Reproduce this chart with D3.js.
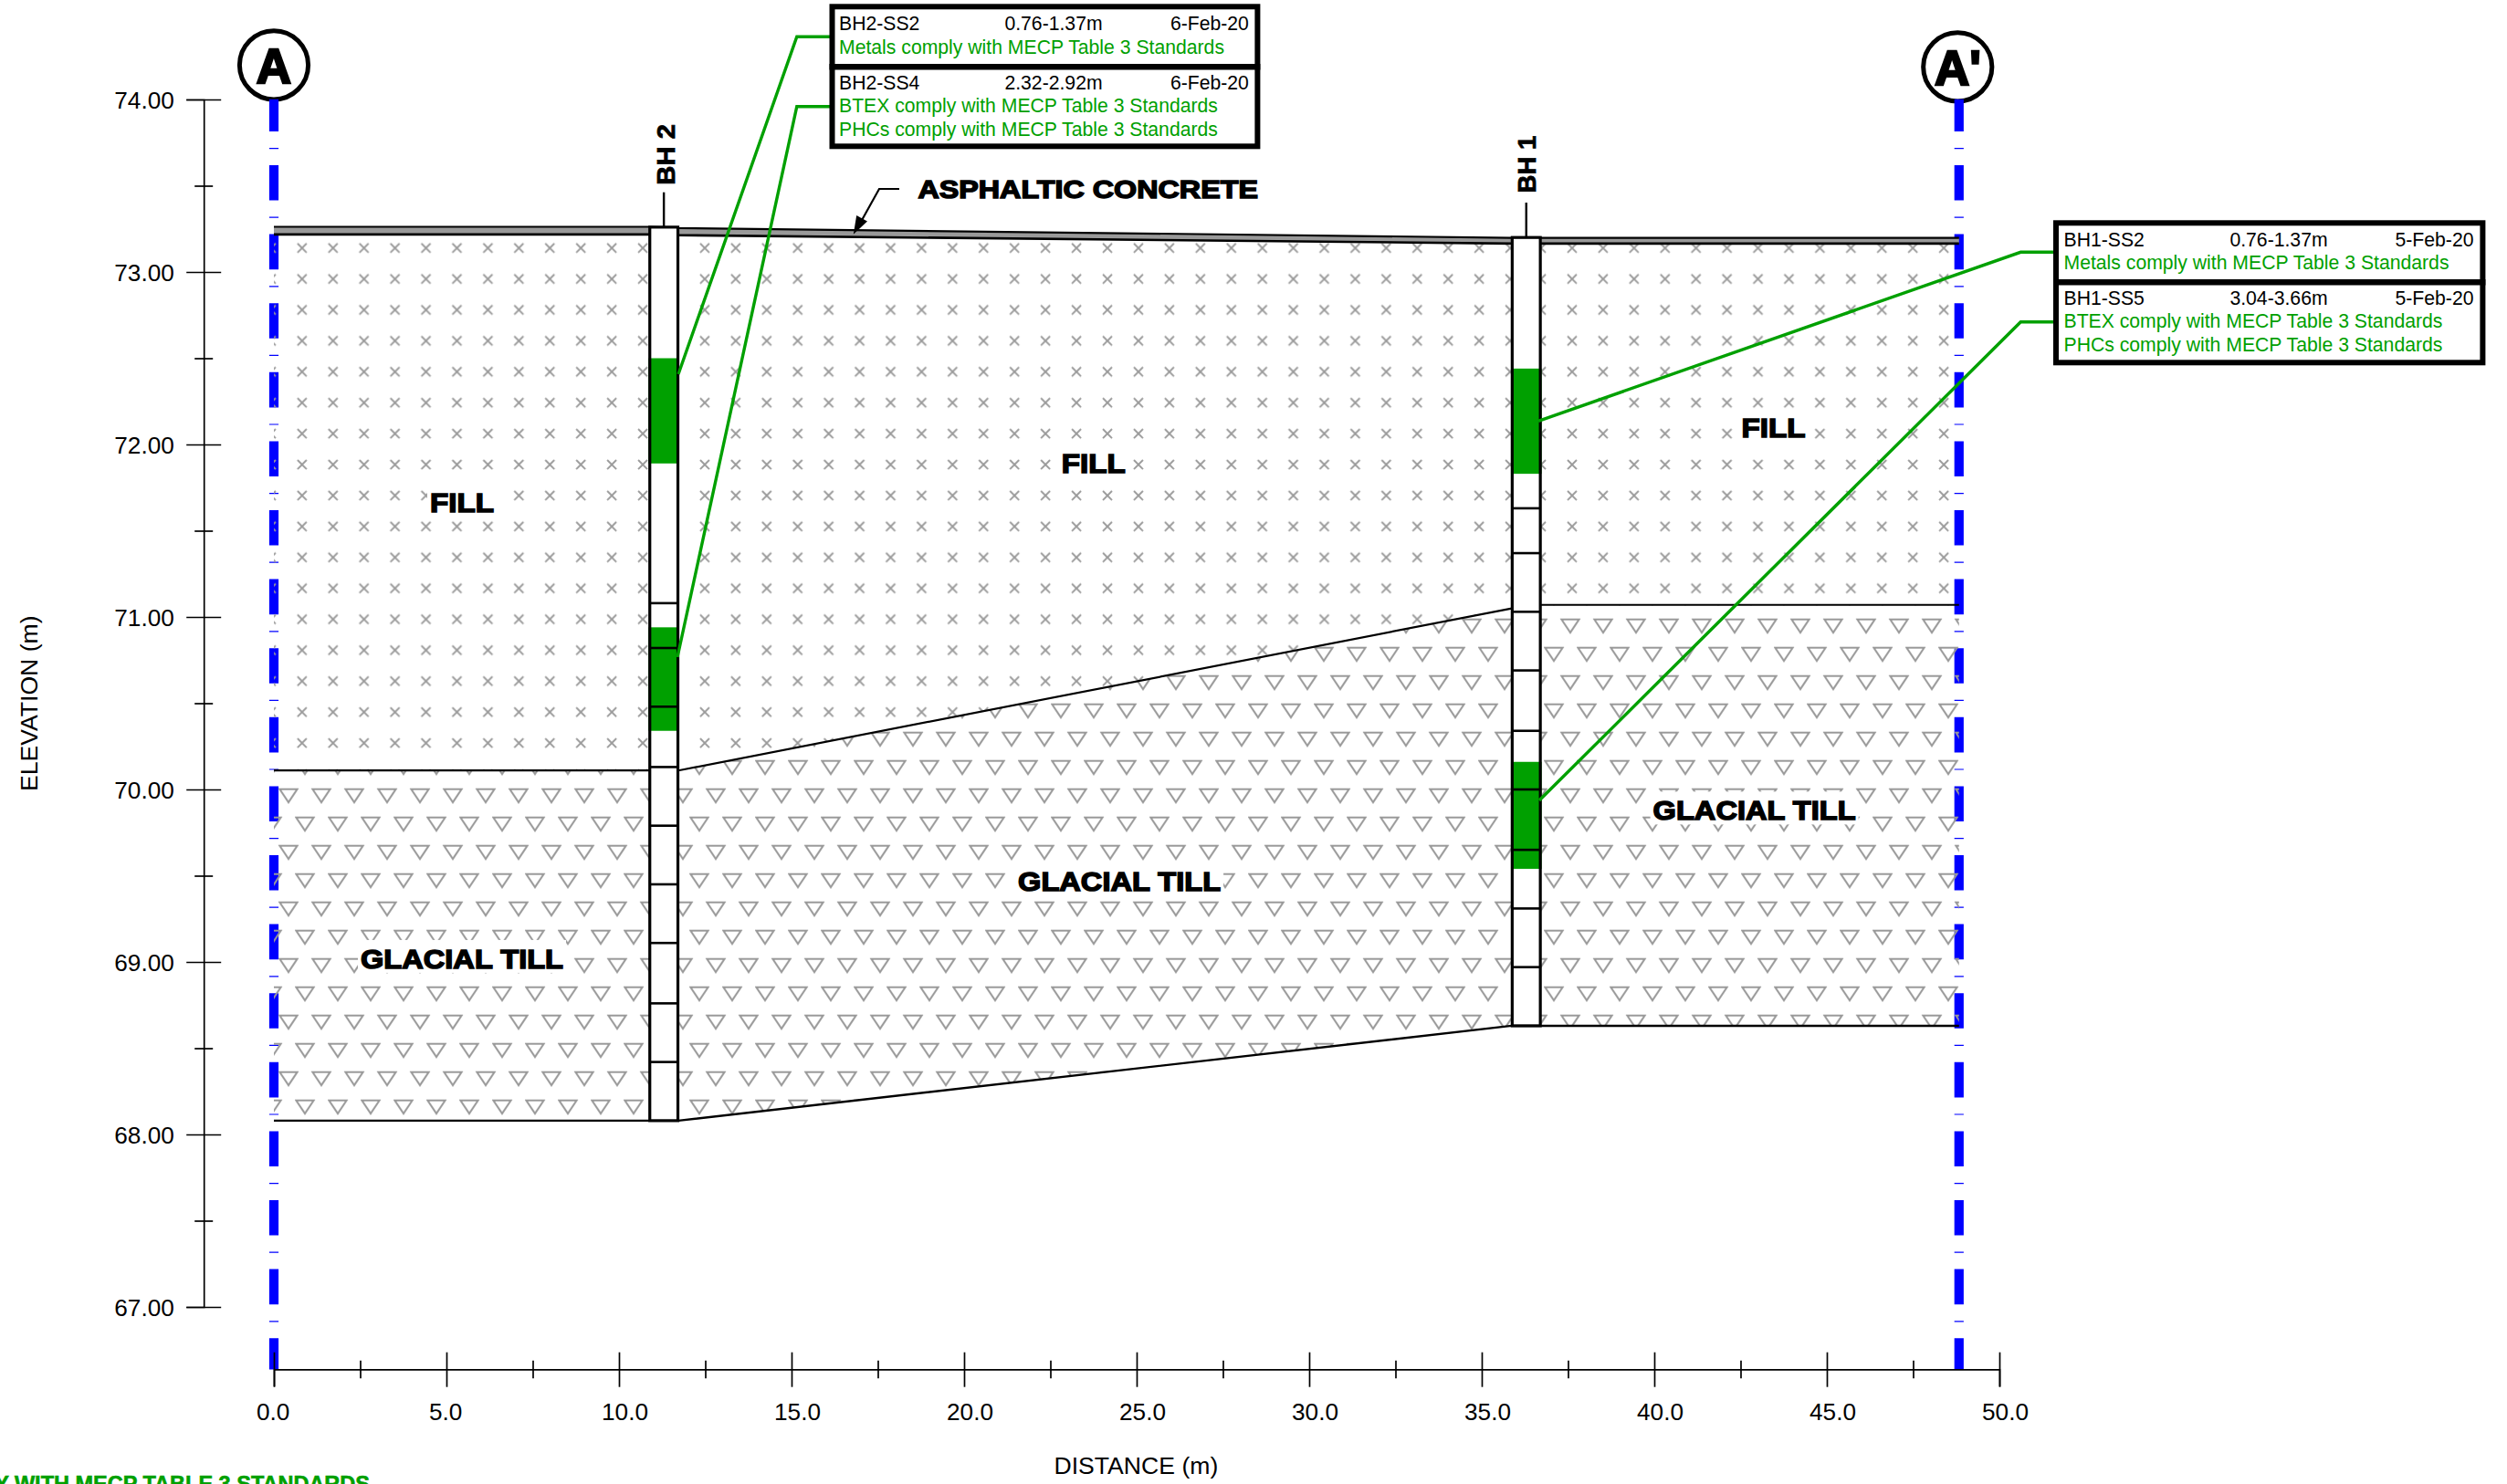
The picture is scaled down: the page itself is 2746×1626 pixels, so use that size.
<!DOCTYPE html>
<html><head><meta charset="utf-8">
<script src="https://cdn.jsdelivr.net/npm/d3@7"></script>
<style>
html,body{margin:0;padding:0;background:#fff;overflow:hidden}
text{font-family:"Liberation Sans",Arial,sans-serif}
</style></head><body><svg id="c" width="2746" height="1626" viewBox="0 0 2746 1626"></svg>
<script>
// ---- data ----
const yMajor=[67,68,69,70,71,72,73,74];
const yMinor=[67.5,68.5,69.5,70.5,71.5,72.5,73.5];
const xMajor=[0,5,10,15,20,25,30,35,40,45,50];
const xMinor=[2.5,7.5,12.5,17.5,22.5,27.5,32.5,37.5,42.5,47.5];
const sectionEnds=[0,48.83];
const layerDist=[0,10.87,11.72,35.87,36.72,48.83];
const asphaltTop=[73.262,73.262,73.255,73.198,73.198,73.198];
const asphaltBase=[73.218,73.218,73.213,73.165,73.165,73.165];
const fillBase=[70.11,70.11,70.11,71.05,71.07,71.07];
const tillBase=[68.08,68.08,68.08,68.63,68.63,68.63];
const bhNames=["BH 2","BH 1"];
const bhDist=[11.3,36.29];
const bhTop=[73.26,73.20];
const bhBottom=[68.08,68.63];
const bh2Ticks=[71.08,70.82,70.48,70.13,69.79,69.45,69.11,68.76,68.42];
const bh1Ticks=[71.63,71.37,71.03,70.69,70.34,70.00,69.65,69.31,68.97];
const bh2Samples=[[72.50,71.89],[70.94,70.34]];
const bh1Samples=[[72.44,71.83],[70.16,69.54]];
const soilLabels=["FILL","GLACIAL TILL","FILL","GLACIAL TILL","FILL","GLACIAL TILL"];
const soilLabelDist=[5.45,5.45,23.75,24.5,43.45,42.9];
const soilLabelElev=[71.665,69.02,71.895,69.47,72.10,69.88];
const boxTexts=[
 {id:"BH2-SS2",depth:"0.76-1.37m",date:"6-Feb-20",lines:["Metals comply with MECP Table 3 Standards"]},
 {id:"BH2-SS4",depth:"2.32-2.92m",date:"6-Feb-20",lines:["BTEX comply with MECP Table 3 Standards","PHCs comply with MECP Table 3 Standards"]},
 {id:"BH1-SS2",depth:"0.76-1.37m",date:"5-Feb-20",lines:["Metals comply with MECP Table 3 Standards"]},
 {id:"BH1-SS5",depth:"3.04-3.66m",date:"5-Feb-20",lines:["BTEX comply with MECP Table 3 Standards","PHCs comply with MECP Table 3 Standards"]}
];
const BLUE="#0000ff",GREEN="#00a000",HATCH="#999999";

// ---- scales ----
const x=d3.scaleLinear().domain([0,50]).range([300,2190]);
const y=d3.scaleLinear().domain([67,74]).range([1432,109]);
const svg=d3.select("#c");
const FS=26.2;

// ---- hatch patterns ----
const defs=svg.append("defs");
const pX=defs.append("pattern").attr("id","hx").attr("patternUnits","userSpaceOnUse")
  .attr("width",33.93).attr("height",33.9).attr("patternTransform","translate(313.84,254.75)");
pX.append("path").attr("d","M12,12L22,22M22,12L12,22").attr("stroke",HATCH).attr("stroke-width",1.9).attr("fill","none");
const pT=defs.append("pattern").attr("id","ht").attr("patternUnits","userSpaceOnUse")
  .attr("width",36).attr("height",62).attr("patternTransform","translate(827,768.7)");
const tri=(cx,top)=>`M${cx-9.6},${top}H${cx+9.6}L${cx},${top+14.4}Z`;
pT.append("path").attr("d",tri(11,3)+tri(29,34)+tri(-7,34)).attr("stroke",HATCH).attr("stroke-width",2).attr("fill","none");

// ---- section lines (A, A') ----
svg.append("g").selectAll("circle").data(sectionEnds).join("circle")
  .attr("cx",d=>x(d)-(d>0?1.5:0)).attr("cy",(d,i)=>i?73.3:71.3).attr("r",37.6)
  .attr("fill","#fff").attr("stroke","#000").attr("stroke-width",5);
svg.append("g").selectAll("line").data(sectionEnds).join("line")
  .attr("x1",d=>x(d)).attr("x2",d=>x(d)).attr("y1",108.7).attr("y2",1500.5)
  .attr("stroke",BLUE).attr("stroke-width",10.2)
  .attr("stroke-dasharray","38.6 18 1.2 17.8").attr("stroke-dashoffset",3.3);
svg.append("text").text("A").attr("x",300).attr("y",90.7).attr("text-anchor","middle")
  .attr("font-size",53).attr("font-weight",700).attr("stroke","#000").attr("stroke-width",2.4);
svg.append("text").text("A'").attr("x",2144.5).attr("y",92.7).attr("text-anchor","middle")
  .attr("font-size",53).attr("font-weight",700).attr("stroke","#000").attr("stroke-width",2.4);

// ---- soil layers ----
const area=(top,bot)=>{
  const pts=layerDist.map((d,i)=>[x(d),y(top[i])]).concat(layerDist.map((d,i)=>[x(d),y(bot[i])]).reverse());
  return d3.line()(pts)+"Z";
};
const edge=vals=>d3.line()(layerDist.map((d,i)=>[x(d),y(vals[i])]));
svg.append("path").attr("d",area(asphaltBase,fillBase)).attr("fill","url(#hx)");
svg.append("path").attr("d",area(fillBase,tillBase)).attr("fill","url(#ht)");
svg.append("path").attr("d",area(asphaltTop,asphaltBase)).attr("fill","#999");
[[asphaltTop,2.2],[asphaltBase,2.7],[fillBase,2.2],[tillBase,2.4]].forEach(([v,w])=>
  svg.append("path").attr("d",edge(v)).attr("fill","none").attr("stroke","#000").attr("stroke-width",w));

// ---- soil labels ----
const labelW={"FILL":70,"GLACIAL TILL":222};
const gl=svg.append("g");
soilLabels.forEach((t,i)=>{
  const cx=x(soilLabelDist[i]),by=y(soilLabelElev[i])+10.7,w=labelW[t];
  gl.append("rect").attr("x",cx-w/2-3).attr("y",by-31).attr("width",w+6).attr("height",36).attr("fill","#fff");
  gl.append("text").text(t).attr("x",cx-w/2).attr("y",by).attr("font-size",29.5).attr("font-weight",700)
    .attr("textLength",w).attr("lengthAdjust","spacingAndGlyphs").attr("stroke","#000").attr("stroke-width",1.5);
});

// ---- boreholes ----
[[bh2Ticks,bh2Samples],[bh1Ticks,bh1Samples]].forEach(([ticks,samples],k)=>{
  const c=x(bhDist[k]),hw=15.4,g=svg.append("g");
  g.append("rect").attr("x",c-hw).attr("width",hw*2).attr("y",y(bhTop[k])).attr("height",y(bhBottom[k])-y(bhTop[k]))
    .attr("fill","#fff");
  g.selectAll(".s").data(samples).join("rect").attr("class","s").attr("x",c-hw-1.4).attr("width",hw*2+2.8)
    .attr("y",d=>y(d[0])).attr("height",d=>y(d[1])-y(d[0])).attr("fill",GREEN);
  g.selectAll(".t").data(ticks).join("line").attr("class","t").attr("x1",c-hw).attr("x2",c+hw)
    .attr("y1",d=>y(d)).attr("y2",d=>y(d)).attr("stroke","#000").attr("stroke-width",2.6);
  g.append("rect").attr("x",c-hw).attr("width",hw*2).attr("y",y(bhTop[k])).attr("height",y(bhBottom[k])-y(bhTop[k]))
    .attr("fill","none").attr("stroke","#000").attr("stroke-width",3.2);
  g.append("line").attr("x1",c).attr("x2",c).attr("y1",k?222:210.7).attr("y2",y(bhTop[k])).attr("stroke","#000").attr("stroke-width",2.4);
  const bx=k?1681.7:739.3,by=k?211.4:202.7,len=k?62.8:66.7;
  g.append("text").text(bhNames[k]).attr("transform",`translate(${bx},${by}) rotate(-90)`)
    .attr("font-size",28.5).attr("font-weight",700).attr("textLength",len).attr("lengthAdjust","spacingAndGlyphs")
    .attr("stroke","#000").attr("stroke-width",.8);
});

// ---- leaders ----
const leaders=[
 [[743,410],[872.8,40.3],[909,40.3]],
 [[742,720],[872.8,116.7],[909,116.7]],
 [[1685,461.4],[2213.3,276.3],[2249,276.3]],
 [[1686,877],[2213.3,352.7],[2249,352.7]]
];
svg.append("g").selectAll("path").data(leaders).join("path").attr("d",d=>d3.line()(d))
  .attr("fill","none").attr("stroke",GREEN).attr("stroke-width",3.4);

// ---- result boxes ----
function box(x0,y0,x1,y1,divY,col2,colEnd,tx,base,a,b){
  svg.append("rect").attr("x",x0+3).attr("y",y0+3).attr("width",x1-x0-6).attr("height",y1-y0-6)
    .attr("fill","#fff").attr("stroke","#000").attr("stroke-width",6);
  svg.append("line").attr("x1",x0).attr("x2",x1).attr("y1",divY).attr("y2",divY).attr("stroke","#000").attr("stroke-width",6.4);
  const t=(s,px,py,c,an)=>svg.append("text").text(s).attr("x",px).attr("y",py).attr("fill",c).attr("font-size",21.2).attr("text-anchor",an||"start");
  let r=0;
  [a,b].forEach(d=>{
    t(d.id,tx,base[r],"#000");t(d.depth,col2,base[r],"#000");t(d.date,colEnd,base[r],"#000","end");r++;
    d.lines.forEach(l=>{t(l,tx,base[r],GREEN);r++;});
  });
}
box(908.5,4.3,1380.4,163.3,73.3,1100.4,1367.9,919,[32.7,59,97.7,123.3,149],boxTexts[0],boxTexts[1]);
box(2249,241.3,2722.4,400.3,309.3,2442.4,2709.5,2260.5,[270,295,334.3,359.3,385],boxTexts[2],boxTexts[3]);

// ---- asphalt callout ----
svg.append("path").attr("d",d3.line()([[985,207],[963,207],[943,243]])).attr("fill","none").attr("stroke","#000").attr("stroke-width",2.2);
svg.append("path").attr("d",d3.line()([[934.8,256.7],[938.2,236],[950,242.5]])+"Z").attr("fill","#000");
svg.append("text").text("ASPHALTIC CONCRETE").attr("x",1005.4).attr("y",216.7).attr("font-size",28.5).attr("font-weight",700)
  .attr("textLength",372.6).attr("lengthAdjust","spacingAndGlyphs").attr("stroke","#000").attr("stroke-width",1.5);

// ---- axes ----
const style=g=>{g.selectAll("path,line").attr("stroke","#000").attr("stroke-width",1.7);g.selectAll("text").attr("fill","#000").attr("font-size",FS).attr("font-family",'"Liberation Sans",Arial,sans-serif');};
const yG=svg.append("g").attr("transform","translate(223.2,0)");
yG.call(d3.axisLeft(y).tickValues(yMajor).tickSizeOuter(0).tickSize(19).tickFormat(d3.format(".2f")));
yG.selectAll(".tick line").attr("x2",-19).attr("x1",19);
yG.selectAll(".tick text").attr("x",-32.4).attr("dy",null).attr("y",9.3).attr("text-anchor","end");
const yM=svg.append("g").attr("transform","translate(223.2,0)");
yM.call(d3.axisLeft(y).tickValues(yMinor).tickSizeOuter(0).tickSize(10).tickFormat(""));
yM.selectAll(".tick line").attr("x2",-10).attr("x1",10);
yM.select(".domain").remove();
style(yG);style(yM);

const xG=svg.append("g").attr("transform","translate(0,1500.3)");
xG.call(d3.axisBottom(x).tickValues(xMajor).tickSizeOuter(0).tickSize(19).tickFormat(d3.format(".1f")));
xG.selectAll(".tick line").attr("y1",-18.6).attr("y2",19.4);
xG.selectAll(".tick text").attr("x",-19.5).attr("y",55.7).attr("dy",null).attr("text-anchor","start");
const xM=svg.append("g").attr("transform","translate(0,1500.3)");
xM.call(d3.axisBottom(x).tickValues(xMinor).tickSizeOuter(0).tickSize(10).tickFormat(""));
xM.selectAll(".tick line").attr("y1",-9.6).attr("y2",10);
xM.select(".domain").remove();
style(xG);style(xM);

svg.append("text").text("ELEVATION (m)").attr("transform","translate(41,867) rotate(-90)").attr("font-size",26.6);
svg.append("text").text("DISTANCE (m)").attr("x",1154.5).attr("y",1615).attr("font-size",26.6);
svg.append("text").text("COMPLY WITH MECP TABLE 3 STANDARDS").attr("x",405).attr("y",1634).attr("text-anchor","end")
  .attr("font-size",23.5).attr("font-weight",700).attr("fill",GREEN).attr("stroke",GREEN).attr("stroke-width",.6);
</script></body></html>
